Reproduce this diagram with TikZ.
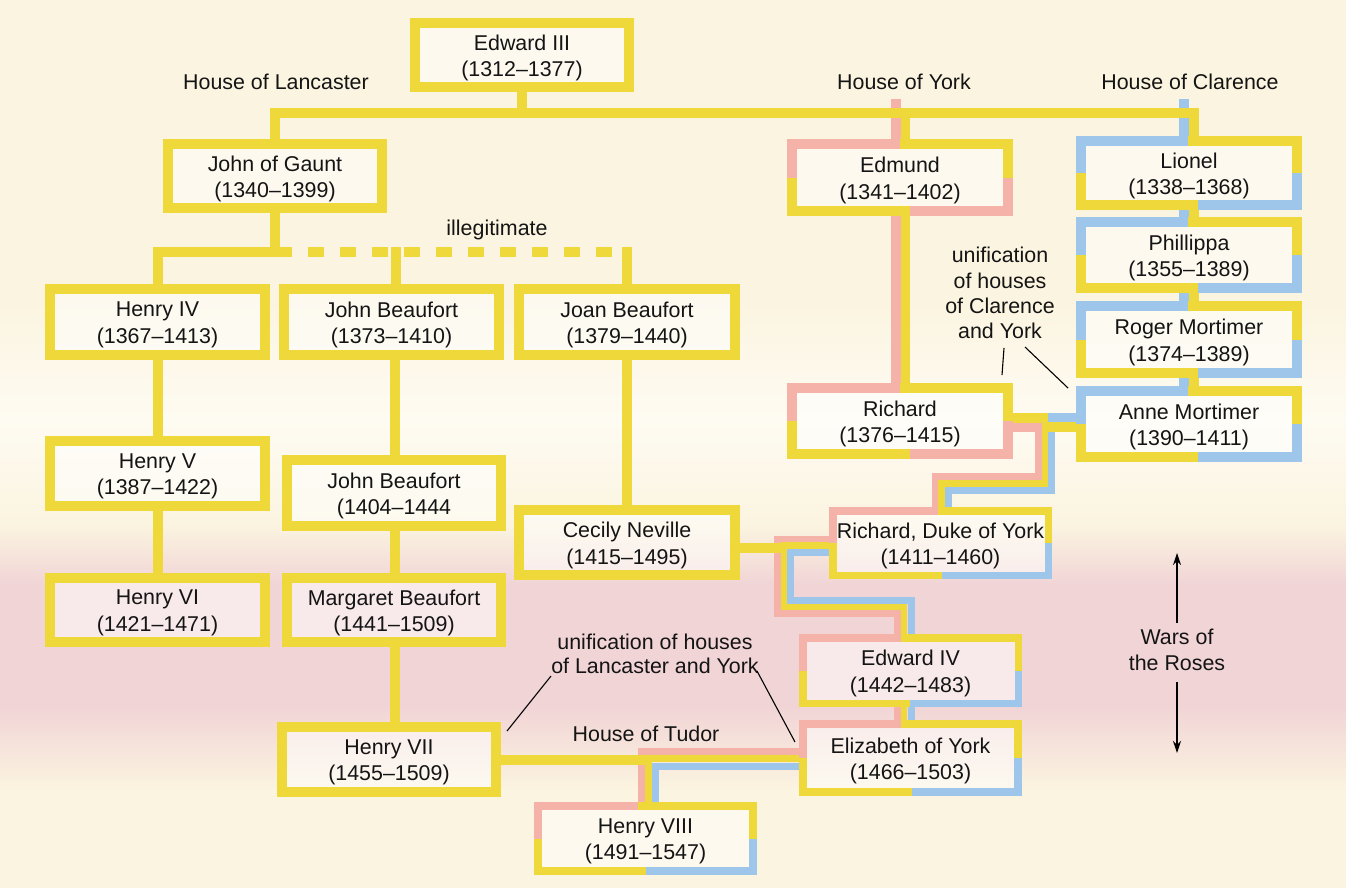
\documentclass[tikz,border=0pt]{standalone}
\usepackage{fontspec}
\setmainfont{Liberation Sans}
\usetikzlibrary{arrows.meta}
\definecolor{fy}{RGB}{239,216,58}
\definecolor{fp}{RGB}{245,178,168}
\definecolor{fb}{RGB}{157,198,234}
\definecolor{bgc}{RGB}{251,244,224}
\definecolor{bgl}{RGB}{254,251,242}
\definecolor{bgp}{RGB}{241,212,214}
\definecolor{txt}{RGB}{20,20,20}
\newcommand\famfont{\fontsize{21.4}{26.5}\selectfont}
\newcommand\famnode[7]{%
  \pgfmathsetmacro\fcx{(#2+#4)/2}\pgfmathsetmacro\fcy{(#3+#5)/2}%
  \pgfmathsetmacro\fw{#4-#2-#6}\pgfmathsetmacro\fh{#5-#3-#6}%
  \node[fam, minimum width=\fw pt, minimum height=\fh pt,
    label={[lbl,yshift=-3pt]center:#7}] (#1) at (\fcx,\fcy) {};}
\newcommand\famplain[1]{\draw[fy,line width=10pt] (#1.north west) rectangle (#1.south east);}
% #1 node, #2 top split x, #3 bottom split x, #4..#7 colours, #8 width
\newcommand\famsplit[8]{%
  \draw[#4,line width=#8pt] (#1.north -| #2,0) -- (#1.north west) -- (#1.west);
  \draw[#5,line width=#8pt] (#1.west) -- (#1.south west) -- (#1.south -| #3,0);
  \draw[#6,line width=#8pt] (#1.south -| #3,0) -- (#1.south east) -- (#1.east);
  \draw[#7,line width=#8pt] (#1.east) -- (#1.north east) -- (#1.north -| #2,0);}
\begin{document}
\begin{tikzpicture}[x=1pt,y=-1pt,
  fam/.style={rectangle,inner sep=0pt,outer sep=0pt,
    fill=white,fill opacity=0.5,text opacity=1},
  lbl/.style={inner sep=0pt,outer sep=0pt,align=center,font=\famfont,text=txt,
    fill opacity=1,text opacity=1},
  lnY/.style={draw=fy,line width=#1pt},
  lnP/.style={draw=fp,line width=#1pt},
  lnB/.style={draw=fb,line width=#1pt},
  note/.style={draw=black,line width=1.1pt},
  warrow/.style={draw=black,line width=1.1pt,-{Stealth[length=12pt,width=8pt]}}]
\useasboundingbox (0,0) rectangle (1346,888);
% background
\fill[bgc] (0,0) rectangle (1346,888);
\shade[top color=bgc,bottom color=bgl] (0,300) rectangle (1346,420);
\shade[top color=bgl,bottom color=bgc] (0,420) rectangle (1346,525);
\shade[top color=bgc,bottom color=bgp] (0,525) rectangle (1346,585);
\fill[bgp] (0,585) rectangle (1346,705);
\shade[top color=bgp,bottom color=bgc] (0,705) rectangle (1346,790);
% boxes (nodes)
\famnode{edw}{410}{18}{634}{92}{10}{Edward III\\(1312–1377)}
\famnode{gaunt}{163}{139}{387}{213}{10}{John of Gaunt\\(1340–1399)}
\famnode{edmund}{787}{139}{1013}{216}{10}{Edmund\\(1341–1402)}
\famnode{lionel}{1076}{136}{1302}{210}{10}{Lionel\\(1338–1368)}
\famnode{phil}{1076}{217}{1302}{293}{10}{Phillippa\\(1355–1389)}
\famnode{roger}{1076}{301}{1302}{378}{10}{Roger Mortimer\\(1374–1389)}
\famnode{anne}{1076}{386}{1302}{462}{10}{Anne Mortimer\\(1390–1411)}
\famnode{richard}{787}{383}{1013}{459}{10}{Richard\\(1376–1415)}
\famnode{henry4}{45}{284}{270}{360}{10}{Henry IV\\(1367–1413)}
\famnode{jb1}{279}{284}{504}{360}{10}{John Beaufort\\(1373–1410)}
\famnode{joan}{514}{284}{740}{360}{10}{Joan Beaufort\\(1379–1440)}
\famnode{henry5}{45}{436}{270}{511}{10}{Henry V\\(1387–1422)}
\famnode{jb2}{282}{455}{506}{531}{10}{John Beaufort\\(1404–1444}
\famnode{henry6}{45}{573}{270}{647}{10}{Henry VI\\(1421–1471)}
\famnode{margaret}{282}{573}{506}{647}{10}{Margaret Beaufort\\(1441–1509)}
\famnode{henry7}{277}{722}{501}{797}{10}{Henry VII\\(1455–1509)}
\famnode{cecily}{514}{505}{740}{580}{10}{Cecily Neville\\(1415–1495)}
\famnode{doy}{829}{507}{1052}{579}{7.5}{Richard, Duke of York\\(1411–1460)}
\famnode{edw4}{799}{634}{1022}{707}{7.5}{Edward IV\\(1442–1483)}
\famnode{eliz}{799}{720}{1022}{796}{8}{Elizabeth of York\\(1466–1503)}
\famnode{henry8}{534}{802}{757}{875}{8}{Henry VIII\\(1491–1547)}
% labels
\node[lbl] (hlanc) at (276,82) {House of Lancaster};
\node[lbl] (hyork) at (904,82) {House of York};
\node[lbl] (hclar) at (1190,82) {House of Clarence};
\node[lbl] (illeg) at (497,230) {illegitimate};
\node[lbl,font=\fontsize{21.4}{25.3}\selectfont] (uclar) at (1000,293) {unification\\of houses\\of Clarence\\and York};
\node[lbl,font=\fontsize{21.4}{24}\selectfont] (ulanc) at (655,654) {unification of houses\\of Lancaster and York};
\node[lbl] (tudor) at (646,734) {House of Tudor};
\node[lbl] (wars) at (1177,650) {Wars of\\the Roses};
% pink lines
\draw[lnP=9.5] (896,99) -- (edmund.north -| 896,0);
\draw[lnP=9.5] (edmund.south -| 896,0) -- (richard.north -| 896,0);
\draw[lnP=10] (richard.east |- 0,427) -- (1042,427);
\draw[lnP=7] (1038.5,422) -- (1038.5,476.5) -- (935,476.5) -- (doy.north -| 935,0);
\draw[lnP=7] (doy.west |- 0,539) -- (777.5,539) -- (777.5,613.5) -- (897.5,613.5) -- (edw4.north -| 897.5,0);
\draw[lnP=7] (edw4.south -| 897.5,0) -- (eliz.north -| 897.5,0);
\draw[lnP=7] (eliz.west |- 0,751.5) -- (641.5,751.5) -- (henry8.north -| 641.5,0);
% blue lines
\draw[lnB=10] (1184,99) -- (lionel.north -| 1184,0);
\draw[lnB=10] (lionel.south -| 1183.5,0) -- (phil.north -| 1183.5,0);
\draw[lnB=10] (phil.south -| 1183.5,0) -- (roger.north -| 1183.5,0);
\draw[lnB=10] (roger.south -| 1183.5,0) -- (anne.north -| 1183.5,0);
\draw[lnB=9] (anne.west |- 0,417.5) -- (1048,417.5);
\draw[lnB=7] (1051.5,413) -- (1051.5,490) -- (948.5,490) -- (doy.north -| 948.5,0);
\draw[lnB=7] (doy.west |- 0,552) -- (790.5,552) -- (790.5,600.5) -- (911,600.5) -- (edw4.north -| 911,0);
\draw[lnB=7] (edw4.south -| 911,0) -- (eliz.north -| 911,0);
\draw[lnB=7] (eliz.west |- 0,766) -- (655,766) -- (henry8.north -| 655,0);
% yellow lines
\draw[lnY=10] (edw.south) -- (edw.south |- 0,113);
\draw[lnY=10] (gaunt.north) |- (1194,113) -- (lionel.north -| 1194,0);
\draw[lnY=9.5] (905.5,113) -- (edmund.north -| 905.5,0);
\draw[lnY=9.5] (edmund.south -| 905.5,0) -- (richard.north -| 905.5,0);
\draw[lnY=10] (lionel.south -| 1193.5,0) -- (phil.north -| 1193.5,0);
\draw[lnY=10] (phil.south -| 1193.5,0) -- (roger.north -| 1193.5,0);
\draw[lnY=10] (roger.south -| 1193.5,0) -- (anne.north -| 1193.5,0);
\draw[lnY=10] (gaunt.south) -- (gaunt.south |- 0,252);
\draw[lnY=10] (henry4.north) |- (292,252);
\draw[lnY=10,dash pattern=on 16pt off 16pt] (308,252) -- (612,252);
\draw[lnY=10] (396,247) -- (jb1.north -| 396,0);
\draw[lnY=10] (joan.north |- 0,247) -- (joan.north);
\draw[lnY=10] (henry4.south) -- (henry5.north);
\draw[lnY=10] (henry5.south) -- (henry6.north);
\draw[lnY=10] (jb1.south -| 395,0) -- (jb2.north -| 395,0);
\draw[lnY=10] (jb2.south -| 395,0) -- (margaret.north -| 395,0);
\draw[lnY=10] (margaret.south -| 395,0) -- (henry7.north -| 395,0);
\draw[lnY=10] (joan.south) -- (cecily.north);
\draw[lnY=10] (cecily.east |- 0,548) -- (787,548);
\draw[lnY=6.5] (doy.west |- 0,545.5) -- (784,545.5) -- (784,607) -- (904,607) -- (edw4.north -| 904,0);
\draw[lnY=10] (richard.east |- 0,418) -- (1048,418);
\draw[lnY=10] (anne.west |- 0,427) -- (1042,427);
\draw[lnY=6.5] (1045,413) -- (1045,483.5) -- (941.5,483.5) -- (doy.north -| 941.5,0);
\draw[lnY=6.5] (edw4.south -| 904,0) -- (eliz.north -| 904,0);
\draw[lnY=10] (henry7.east |- 0,759.5) -- (645,759.5);
\draw[lnY=7] (eliz.west |- 0,758.5) -- (648.5,758.5) -- (henry8.north -| 648.5,0);
% box borders
\famplain{edw}\famplain{gaunt}\famplain{henry4}\famplain{jb1}\famplain{joan}
\famplain{henry5}\famplain{jb2}\famplain{henry6}\famplain{margaret}\famplain{henry7}\famplain{cecily}
\famsplit{edmund}{900}{910}{fp}{fy}{fp}{fy}{10}
\famsplit{richard}{900}{910}{fp}{fy}{fp}{fy}{10}
\famsplit{lionel}{1188}{1198}{fb}{fy}{fb}{fy}{10}
\famsplit{phil}{1188}{1198}{fb}{fy}{fb}{fy}{10}
\famsplit{roger}{1188}{1198}{fb}{fy}{fb}{fy}{10}
\famsplit{anne}{1188}{1198}{fb}{fy}{fb}{fy}{10}
\famsplit{doy}{938}{942}{fp}{fy}{fb}{fy}{7.5}
\famsplit{edw4}{901}{910}{fp}{fy}{fb}{fy}{7.5}
\famsplit{eliz}{901}{912}{fp}{fy}{fb}{fy}{8}
\famsplit{henry8}{638}{646}{fp}{fy}{fb}{fy}{8}
% annotation pointers
\coordinate (uc1) at (1004,348); \coordinate (uc1e) at (1002,375);
\coordinate (uc2) at (1025,347); \coordinate (uc2e) at (1068,388);
\coordinate (ul1) at (551,676); \coordinate (ul1e) at (507,731);
\coordinate (ul2) at (757,671); \coordinate (ul2e) at (795,742);
\draw[note] (uc1) -- (uc1e);
\draw[note] (uc2) -- (uc2e);
\draw[note] (ul1) -- (ul1e);
\draw[note] (ul2) -- (ul2e);
\coordinate (wt) at (1177,623); \coordinate (wtt) at (1177,553);
\coordinate (wb) at (1177,682); \coordinate (wbb) at (1177,753);
\draw[warrow] (wt) -- (wtt);
\draw[warrow] (wb) -- (wbb);
\end{tikzpicture}
\end{document}
